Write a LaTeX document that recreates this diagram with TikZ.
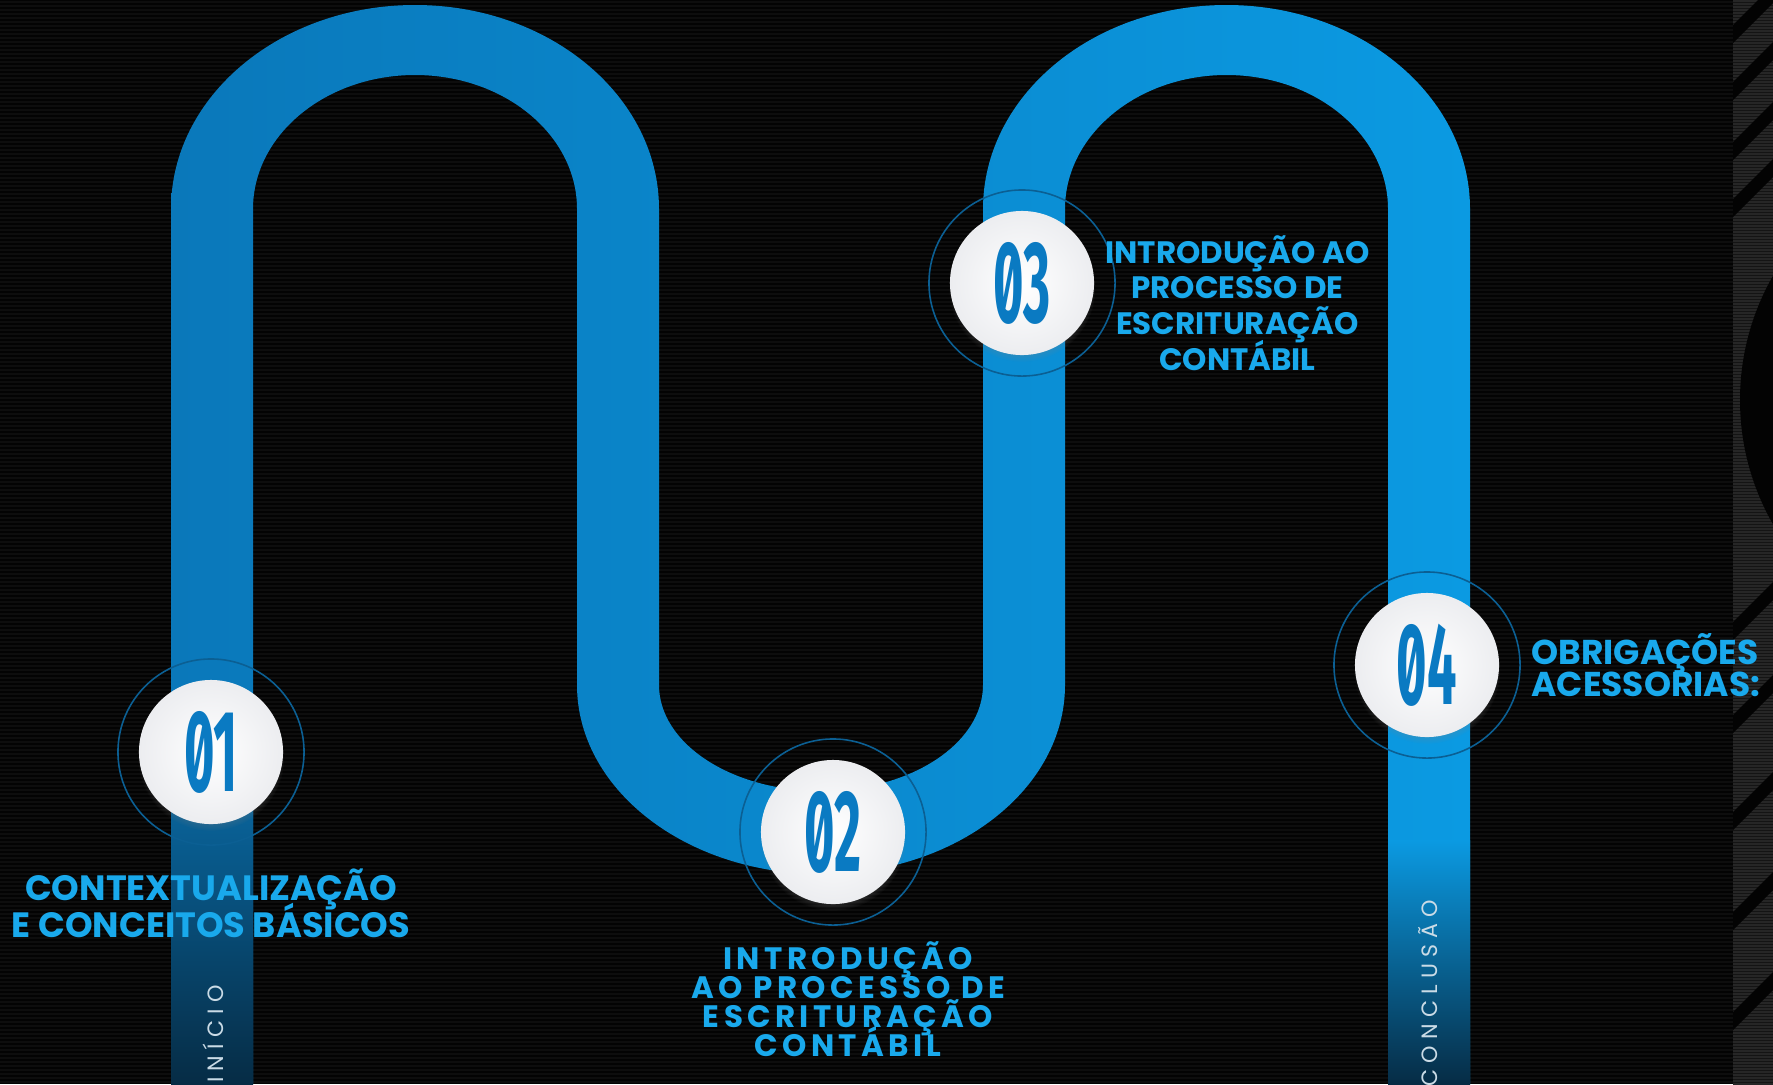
\documentclass[tikz,border=0pt]{standalone}
\usepackage{graphicx}
\usepackage{fontspec}
\usepackage{tikz}
\usetikzlibrary{positioning,shadows}
\setmainfont{Poppins}
\newfontfamily\numfont{Fira Sans}[Numbers=SlashedZero]
\newfontfamily\spacedfont{Poppins}[LetterSpace=14]
\newfontfamily\legfont{Poppins}[LetterSpace=28]
\definecolor{bgblack}{HTML}{030303}
\definecolor{scanline}{HTML}{0D0D0D}
\definecolor{roadleft}{HTML}{0A78BA}
\definecolor{roadright}{HTML}{0B9AE2}
\definecolor{roaddark}{HTML}{062C45}
\definecolor{ringblue}{HTML}{0B5F93}
\definecolor{numblue}{HTML}{0A7AC2}
\definecolor{titleblue}{HTML}{19A9EC}
\definecolor{discgray}{HTML}{ECEDF0}
\definecolor{sidegray}{HTML}{141414}
\definecolor{sideline}{HTML}{262626}
\definecolor{legtext}{HTML}{CADBE6}
\newcommand{\stepnum}[1]{\scalebox{0.45}[1]{#1}}
\newcommand{\tightlines}{\lineskiplimit=-100pt}

\begin{document}
\begin{tikzpicture}[x=0.01cm, y=0.01cm]
  \tikzset{
    stepring/.style={circle, draw=ringblue, line width=0.45pt, minimum size=1.86cm, inner sep=0pt},
    stepdisc/.style={circle, minimum size=1.44cm, inner sep=0pt, inner color=white, outer color=discgray,
      circular drop shadow={opacity=0.35, shadow xshift=0pt, shadow yshift=-1.5pt, shadow scale=1.02},
      text=numblue, font=\numfont\bfseries\fontsize{33}{33}\selectfont},
    steptitle/.style={text=titleblue, align=center, inner sep=0pt},
    legtag/.style={text=legtext, inner sep=0pt, rotate=90, font=\legfont\fontsize{6.3}{7}\selectfont}
  }
  \useasboundingbox (0,0) rectangle (1773,-1084);
  % background
  \fill[bgblack] (0,0) rectangle (1773,-1084);
  \foreach \y in {2,6,...,1084}
    \draw[scanline, line width=0.015cm] (0,-\y) -- (1733,-\y);
  \begin{scope}
    \clip (1733,0) rectangle (1773,-1084);
    \fill[sidegray] (1733,0) rectangle (1773,-1084);
    \foreach \y in {1,4,...,1084}
      \draw[sideline, line width=0.012cm] (1733,-\y) -- (1773,-\y);
    \foreach \y in {43,100,160,217,640,733,830,930,1030}
      \fill[bgblack] (1733,-\y) -- (1773,-\y+40) -- (1773,-\y+58) -- (1733,-\y+18) -- cycle;
    \fill[bgblack] (1990,-400) circle[radius=250];
  \end{scope}

  % road
  \shade[left color=roadleft, right color=roadright]
    (171,-1084) -- (171,-209)
    arc[start angle=180, end angle=0, x radius=244, y radius=204]
    -- (659,-685)
    arc[start angle=180, end angle=360, x radius=162, y radius=106]
    -- (983,-209)
    arc[start angle=180, end angle=0, x radius=243.5, y radius=204]
    -- (1470,-1084) -- (1388,-1084) -- (1388,-209)
    arc[start angle=0, end angle=180, x radius=161.5, y radius=134]
    -- (1065,-685)
    arc[start angle=360, end angle=180, x radius=244, y radius=189]
    -- (577,-209)
    arc[start angle=0, end angle=180, x radius=162, y radius=134]
    -- (253,-1084) -- cycle;
  \shade[top color=roadleft, bottom color=roaddark] (171,-700) rectangle (253,-1084);
  \shade[top color=roadright, bottom color=roaddark] (1388,-840) rectangle (1470,-1084);

  \node[legtag] (start) at (213,-1034) {INÍCIO};
  \node[legtag] (end) at (1428,-993) {CONCLUSÃO};

  % steps
  \node[stepring] (r01) at (211,-752) {};
  \node[stepdisc] (d01) at (r01) {\stepnum{01}};
  \node[stepring] (r02) at (833,-832) {};
  \node[stepdisc] (d02) at (r02) {\stepnum{02}};
  \node[stepring] (r03) at (1022,-283) {};
  \node[stepdisc] (d03) at (r03) {\stepnum{03}};
  \node[stepring] (r04) at (1427,-665) {};
  \node[stepdisc] (d04) at (r04) {\stepnum{04}};

  \node[steptitle, below=0.43cm of d01, font=\bfseries\fontsize{10}{10.5}\selectfont\tightlines] (t01)
    {CONTEXTUALIZAÇÃO\\E CONCEITOS BÁSICOS};
  \node[steptitle, below=0.36cm of d02, xshift=0.15cm, font=\spacedfont\bfseries\fontsize{8.8}{8.3}\selectfont\tightlines] (t02)
    {INTRODUÇÃO\\AO PROCESSO DE\\ESCRITURAÇÃO\\CONTÁBIL};
  \node[steptitle, right=0.1cm of d03, yshift=-0.2cm, font=\bfseries\fontsize{8.8}{10.2}\selectfont\tightlines] (t03)
    {INTRODUÇÃO AO\\PROCESSO DE\\ESCRITURAÇÃO\\CONTÁBIL};
  \node[steptitle, right=0.31cm of d04, align=left, font=\bfseries\fontsize{9.8}{9}\selectfont\tightlines] (t04)
    {OBRIGAÇÕES\\ACESSORIAS:};
\end{tikzpicture}
\end{document}
